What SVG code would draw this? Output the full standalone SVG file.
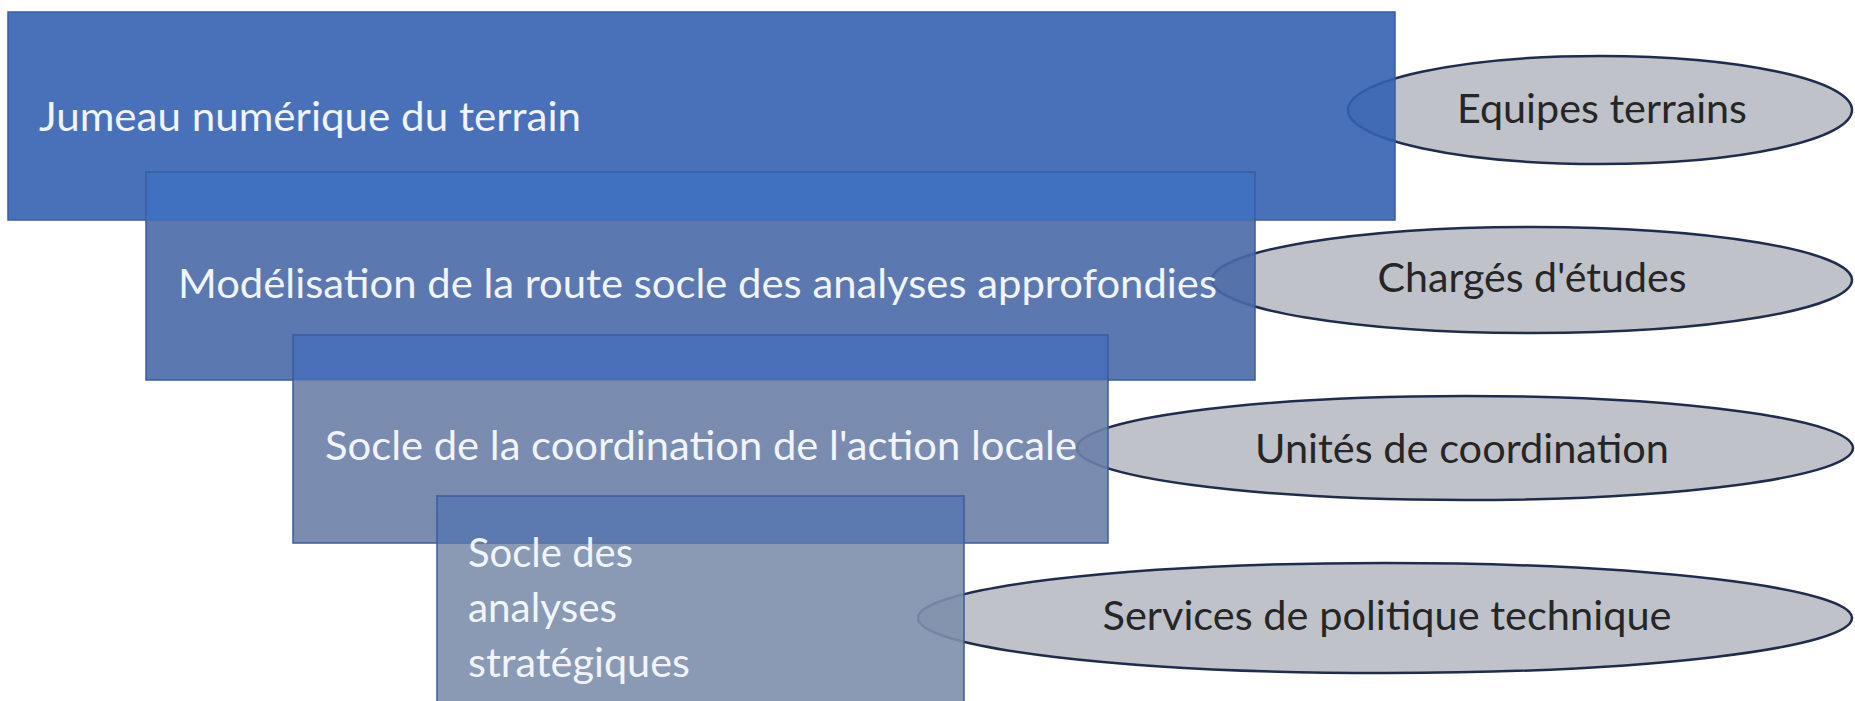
<svg xmlns="http://www.w3.org/2000/svg" width="1855" height="701" viewBox="0 0 1855 701">
<style>
.bg{fill:#ffffff}
.box{stroke:#3a5c9e;stroke-width:1.5;fill-opacity:0.9}
.oval{fill:#bfc2c9;stroke:#1f2c4d;stroke-width:2.5}
.lt{font-family:Lato,"Open Sans","Liberation Sans",sans-serif;font-size:40px;fill:#f1f4fb}
.dk{font-family:Lato,"Open Sans","Liberation Sans",sans-serif;font-size:40px;fill:#262626;text-anchor:middle}
</style>
<defs>
<linearGradient id="g2" x1="0" y1="0" x2="0" y2="1">
<stop offset="0.2308" stop-color="#3f70c1"/><stop offset="0.2308" stop-color="#4a69a7"/>
</linearGradient>
<linearGradient id="g3" x1="0" y1="0" x2="0" y2="1">
<stop offset="0.216" stop-color="#466fb9"/><stop offset="0.216" stop-color="#6b7fa7"/>
</linearGradient>
<linearGradient id="g4" x1="0" y1="0" x2="0" y2="1">
<stop offset="0.2308" stop-color="#5978b0"/><stop offset="0.2308" stop-color="#7d8fac"/>
</linearGradient>
</defs>
<rect class="bg" x="0" y="0" width="1855" height="701"/>
<g id="role-equipes">
<ellipse class="oval" cx="1600" cy="110" rx="252" ry="54"/>
<text class="dk" x="1602" y="123" textLength="290" lengthAdjust="spacingAndGlyphs">Equipes terrains</text>
</g>
<g id="role-charges">
<ellipse class="oval" cx="1532" cy="280" rx="320" ry="53"/>
<text class="dk" x="1532" y="292" textLength="309" lengthAdjust="spacingAndGlyphs">Chargés d'études</text>
</g>
<g id="role-unites">
<ellipse class="oval" cx="1465" cy="448" rx="388" ry="52"/>
<text class="dk" x="1462" y="463" textLength="414" lengthAdjust="spacingAndGlyphs">Unités de coordination</text>
</g>
<g id="role-services">
<ellipse class="oval" cx="1385" cy="618" rx="467" ry="55"/>
<text class="dk" x="1387" y="630" textLength="569" lengthAdjust="spacingAndGlyphs">Services de politique technique</text>
</g>
<g id="level-jumeau">
<rect class="box" x="8" y="12" width="1387" height="208" fill="#3462b2"/>
<text class="lt" x="39" y="131" textLength="542" lengthAdjust="spacingAndGlyphs">Jumeau numérique du terrain</text>
</g>
<g id="level-modelisation">
<rect class="box" x="146" y="172" width="1109" height="208" fill="url(#g2)"/>
<text class="lt" x="178" y="298" textLength="1039" lengthAdjust="spacingAndGlyphs">Modélisation de la route socle des analyses approfondies</text>
</g>
<g id="level-coordination">
<rect class="box" x="293" y="335" width="815" height="208" fill="url(#g3)"/>
<text class="lt" x="325" y="460" textLength="752" lengthAdjust="spacingAndGlyphs">Socle de la coordination de l'action locale</text>
</g>
<g id="level-strategique">
<rect class="box" x="437" y="496" width="527" height="208" fill="url(#g4)"/>
<text class="lt" x="468" y="567" textLength="165" lengthAdjust="spacingAndGlyphs">Socle des</text>
<text class="lt" x="468" y="622" textLength="149" lengthAdjust="spacingAndGlyphs">analyses</text>
<text class="lt" x="468" y="677" textLength="222" lengthAdjust="spacingAndGlyphs">stratégiques</text>
</g>
<g id="connectors"></g>
</svg>
